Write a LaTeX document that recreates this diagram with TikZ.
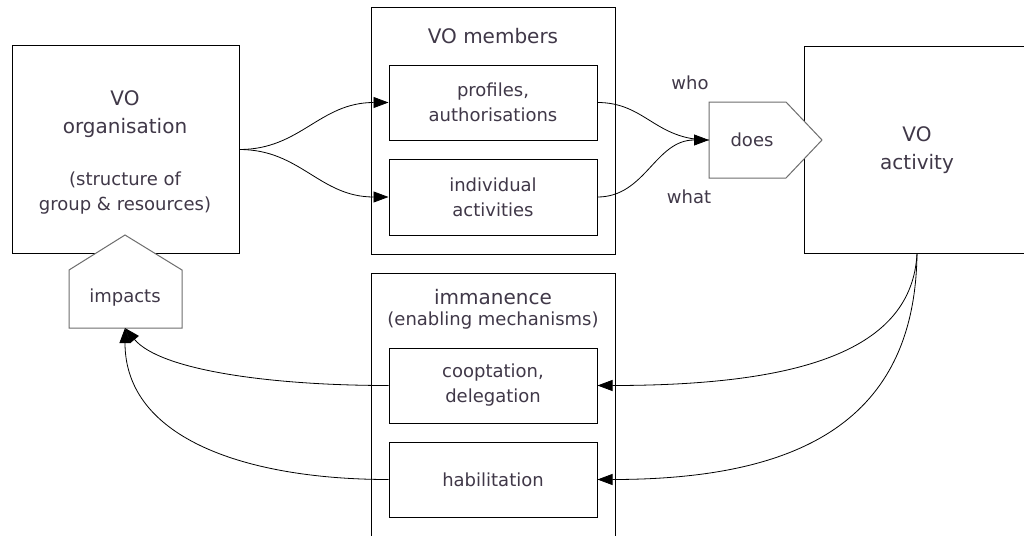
\documentclass[tikz,border=0pt]{standalone}
\usepackage{fontspec}
\setmainfont{DejaVu Sans}
\usetikzlibrary{arrows.meta}
\definecolor{txt}{RGB}{64,56,72}
\definecolor{pent}{RGB}{110,110,110}
\newcommand\fbig{\fontsize{20}{28}\selectfont}
\newcommand\fsmall{\fontsize{18}{25}\selectfont}
\begin{document}
\begin{tikzpicture}[x=1pt,y=-1pt,
  box/.style={draw=black,line width=1pt,inner sep=0pt},
  inbox/.style={draw=black,line width=1pt,minimum width=208pt,minimum height=75pt,align=center,font=\fsmall,text=txt,inner sep=0pt},
  lbl/.style={align=center,text=txt,inner sep=0pt},
  pentagon/.style={draw=pent,fill=white,line width=1pt},
  conn/.style={draw=black,line width=0.8pt},
  arr/.style={conn,-{Triangle[length=15pt,width=11pt]}}]
\useasboundingbox (0,0) rectangle (1024,535);
\clip (0,0) rectangle (1024,535);
\fill[white] (0,0) rectangle (1024,535);

% main boxes
\node[box,minimum width=227pt,minimum height=207pt] (org) at (125.5,149.5) {};
\node[box,minimum width=244pt,minimum height=246pt] (mem) at (493,131) {};
\node[box,minimum width=244pt,minimum height=290pt] (imm) at (493,418) {};
\node[box,minimum width=226pt,minimum height=206pt,align=center,font=\fbig,text=txt] (act) at (917,150) {VO\\activity};

% inner boxes
\node[inbox] (prof) at (493,102.5) {profiles,\\authorisations};
\node[inbox,minimum height=76pt] (indiv) at (493,197) {individual\\activities};
\node[inbox] (coop) at (493,385.5) {cooptation,\\delegation};
\node[inbox] (hab) at (493,479.5) {habilitation};

% labels
\node[lbl,font=\fbig] (orgA) at (125,114) {VO\\organisation};
\node[lbl,font=\fsmall] (orgB) at (125,193) {(structure of\\group \& resources)};
\node[lbl,font=\fbig] (memT) at (493,36) {VO members};
\node[lbl,font=\fbig] (immA) at (493,297) {immanence};
\node[lbl,font=\fsmall] (immB) at (493,321) {(enabling mechanisms)};
\node[lbl,font=\fsmall] (who) at (690,83) {who};
\node[lbl,font=\fsmall] (what) at (689,197) {what};

% pentagons
\draw[pentagon] (709,102) -- (786,102) -- (822,140) -- (786,178) -- (709,178) -- cycle;
\node[lbl,font=\fsmall] (does) at (752,140) {does};
\coordinate (doesW) at (709,140);
\draw[pentagon] (69,270) -- (125,235) -- (182,270) -- (182,328) -- (69,328) -- cycle;
\node[lbl,font=\fsmall] (imp) at (125,298) {impacts};
\coordinate (impB) at (125,328);

% connectors
\draw[arr] (org.east) .. controls +(61,0) and +(-69,0) .. (prof.west);
\draw[arr] (org.east) .. controls +(61,0) and +(-69,0) .. (indiv.west);
\draw[conn] (prof.east) .. controls +(48,0) and +(-54,0) .. (doesW);
\draw[arr] (indiv.east) .. controls +(48,0) and +(-54,0) .. (doesW);
\draw[arr] (act.south) .. controls +(-5,97) and +(203,0) .. (coop.east);
\draw[arr] (act.south) .. controls +(-2,167) and +(203,0) .. (hab.east);
\draw[arr] (coop.west) .. controls +(-119,0) and +(35,42) .. (impB);
\draw[arr] (hab.west) .. controls +(-139,0) and +(0,112) .. (impB);
\end{tikzpicture}
\end{document}
